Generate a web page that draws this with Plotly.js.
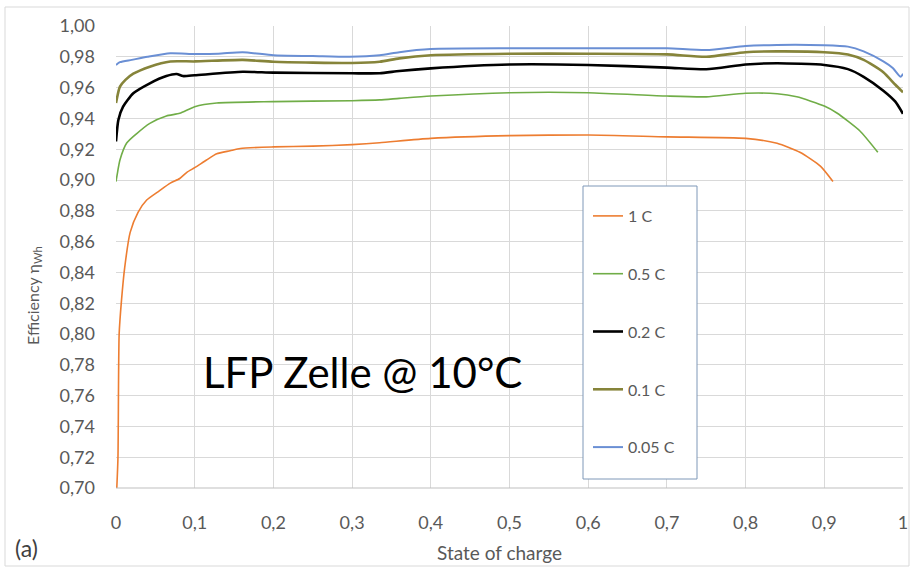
<!DOCTYPE html>
<html>
<head>
<meta charset="utf-8">
<script src="https://cdn.plot.ly/plotly-3.0.1.min.js"></script>
<style>html,body{margin:0;padding:0;background:#fff;}#chart{width:910px;height:573px;}</style>
</head>
<body>
<div id="chart"></div>
<script>
// Series names
const seriesNames = ["1 C", "0.5 C", "0.2 C", "0.1 C", "0.05 C"];

// 1 C
const soc1C = [0.0, 0.001, 0.0025, 0.004, 0.007, 0.011, 0.018, 0.028, 0.039, 0.055, 0.069, 0.081, 0.09, 0.1, 0.115, 0.128, 0.145, 0.158, 0.2, 0.25, 0.3, 0.335, 0.4, 0.5, 0.6, 0.7, 0.8, 0.84, 0.869, 0.895, 0.911];
const eff1C = [0.69, 0.70, 0.72, 0.80, 0.822, 0.843, 0.866, 0.879, 0.887, 0.893, 0.898, 0.901, 0.905, 0.908, 0.913, 0.917, 0.919, 0.9205, 0.9215, 0.922, 0.923, 0.9242, 0.927, 0.9288, 0.9292, 0.928, 0.927, 0.9238, 0.918, 0.909, 0.899];

// 0.5 C
const soc05C = [0.0, 0.002, 0.005, 0.0136, 0.026, 0.043, 0.064, 0.081, 0.1, 0.128, 0.2, 0.3, 0.335, 0.36, 0.4, 0.5, 0.6, 0.7, 0.75, 0.8, 0.84, 0.865, 0.9, 0.916, 0.945, 0.968];
const eff05C = [0.899, 0.905, 0.913, 0.924, 0.930, 0.9368, 0.9416, 0.9433, 0.9476, 0.950, 0.9509, 0.9515, 0.952, 0.953, 0.9545, 0.9567, 0.9567, 0.9545, 0.954, 0.9563, 0.956, 0.954, 0.948, 0.9435, 0.932, 0.918];

// 0.2 C
const soc02C = [0.0, 0.003, 0.009, 0.022, 0.043, 0.064, 0.077, 0.085, 0.1, 0.161, 0.2, 0.3, 0.335, 0.36, 0.4, 0.5, 0.6, 0.7, 0.75, 0.8, 0.84, 0.9, 0.93, 0.95, 0.975, 0.99, 1.0];
const eff02C = [0.925, 0.939, 0.9476, 0.9563, 0.9628, 0.9675, 0.9688, 0.9675, 0.968, 0.9703, 0.9697, 0.9693, 0.9693, 0.9708, 0.9725, 0.975, 0.9747, 0.973, 0.9719, 0.975, 0.9758, 0.9747, 0.972, 0.967, 0.958, 0.951, 0.943];

// 0.1 C
const soc01C = [0.0, 0.005, 0.012, 0.022, 0.043, 0.069, 0.1, 0.161, 0.2, 0.3, 0.335, 0.36, 0.4, 0.5, 0.6, 0.7, 0.75, 0.8, 0.84, 0.9, 0.93, 0.95, 0.975, 0.99, 1.0];
const eff01C = [0.950, 0.9606, 0.965, 0.969, 0.9736, 0.977, 0.977, 0.978, 0.9768, 0.976, 0.9768, 0.979, 0.981, 0.982, 0.982, 0.9816, 0.980, 0.983, 0.9835, 0.983, 0.9815, 0.978, 0.970, 0.962, 0.957];

// 0.05 C
const soc005C = [0.0, 0.005, 0.02, 0.04, 0.069, 0.1, 0.13, 0.161, 0.2, 0.25, 0.297, 0.335, 0.36, 0.4, 0.5, 0.6, 0.7, 0.75, 0.8, 0.84, 0.9, 0.93, 0.95, 0.975, 0.987, 0.997, 1.0];
const eff005C = [0.9747, 0.9765, 0.978, 0.980, 0.9823, 0.9818, 0.982, 0.983, 0.981, 0.9805, 0.980, 0.981, 0.983, 0.985, 0.9855, 0.9855, 0.9855, 0.9844, 0.987, 0.9877, 0.9875, 0.9866, 0.9835, 0.977, 0.9727, 0.967, 0.969];

// Axis ticks
const xTickVals = [0, 0.1, 0.2, 0.3, 0.4, 0.5, 0.6, 0.7, 0.8, 0.9, 1];
const xTickText = ["0", "0,1", "0,2", "0,3", "0,4", "0,5", "0,6", "0,7", "0,8", "0,9", "1"];
const yTickVals = [0.70, 0.72, 0.74, 0.76, 0.78, 0.80, 0.82, 0.84, 0.86, 0.88, 0.90, 0.92, 0.94, 0.96, 0.98, 1.00];
const yTickText = ["0,70", "0,72", "0,74", "0,76", "0,78", "0,80", "0,82", "0,84", "0,86", "0,88", "0,90", "0,92", "0,94", "0,96", "0,98", "1,00"];

const xs = [soc1C, soc05C, soc02C, soc01C, soc005C];
const ys = [eff1C, eff05C, eff02C, eff01C, eff005C];
const colors = ["#ED7D31", "#70AD47", "#000000", "#86843A", "#6A8FD4"];
const widths = [1.6, 1.6, 2.6, 2.6, 2.0];

const traces = seriesNames.map((n, i) => ({
  type: "scatter", mode: "lines", name: n, x: xs[i], y: ys[i],
  legendgroup: "g" + i,
  line: {color: colors[i], width: widths[i], shape: "spline", smoothing: 0.6},
  cliponaxis: true
}));

const W = 910, H = 573, L = 116, R = 7, T = 26, B = 85;
const pw = W - L - R, ph = H - T - B;
const px = v => (v - L) / pw;
const py = v => (H - B - v) / ph;

const layout = {
  width: W, height: H,
  margin: {l: L, r: R, t: T, b: B},
  paper_bgcolor: "#fff", plot_bgcolor: "#fff",
  font: {family: "Lato, 'Open Sans', sans-serif", color: "#595959", size: 14},
  showlegend: true,
  legend: {
    x: px(588), y: py(199), xanchor: "left", yanchor: "top",
    bgcolor: "rgba(0,0,0,0)", borderwidth: 0,
    font: {size: 16, color: "#595959"},
    tracegroupgap: 34, itemwidth: 30
  },
  xaxis: {
    range: [0, 1], tickvals: xTickVals, ticktext: xTickText,
    showgrid: true, gridcolor: "#d9d9d9", gridwidth: 1,
    zeroline: false, showline: false, ticks: "",
    tickfont: {size: 18, color: "#595959"}, ticklabelstandoff: 22
  },
  yaxis: {
    range: [0.70, 1.00], tickvals: yTickVals, ticktext: yTickText,
    showgrid: true, gridcolor: "#d9d9d9", gridwidth: 1,
    zeroline: false, showline: false, ticks: "",
    tickfont: {size: 18, color: "#595959"}, ticklabelstandoff: 20
  },
  shapes: [
    {type: "rect", xref: "paper", yref: "paper", x0: px(5), x1: px(909), y0: py(566), y1: py(7),
     line: {color: "#d9d9d9", width: 1}, fillcolor: "rgba(0,0,0,0)", layer: "below"},
    {type: "line", xref: "paper", yref: "paper", x0: 0, x1: 1, y0: 0, y1: 0,
     line: {color: "#bfbfbf", width: 1}, layer: "above"},
    {type: "rect", xref: "paper", yref: "paper", x0: px(583), x1: px(697), y0: py(479), y1: py(186),
     line: {color: "#7f98b8", width: 1}, fillcolor: "#ffffff", layer: "above"}
  ],
  annotations: [
    {text: "LFP Zelle @ 10°C", xref: "paper", yref: "paper", x: px(362), y: py(372),
     xanchor: "center", yanchor: "middle", showarrow: false,
     font: {family: "Lato, sans-serif", size: 42, color: "#000"}},
    {text: "Efficiency η<sub>Wh</sub>", xref: "paper", yref: "paper", x: px(33), y: py(296),
     xanchor: "center", yanchor: "middle", showarrow: false, textangle: -90,
     font: {size: 16, color: "#595959"}},
    {text: "State of charge", xref: "paper", yref: "paper", x: px(499), y: py(552),
     xanchor: "center", yanchor: "middle", showarrow: false,
     font: {size: 19, color: "#595959"}},
    {text: "(a)", xref: "paper", yref: "paper", x: px(26), y: py(548),
     xanchor: "center", yanchor: "middle", showarrow: false,
     font: {size: 23, color: "#404040"}}
  ]
};

Plotly.newPlot("chart", traces, layout, {displayModeBar: false, staticPlot: true});
</script>
</body>
</html>
